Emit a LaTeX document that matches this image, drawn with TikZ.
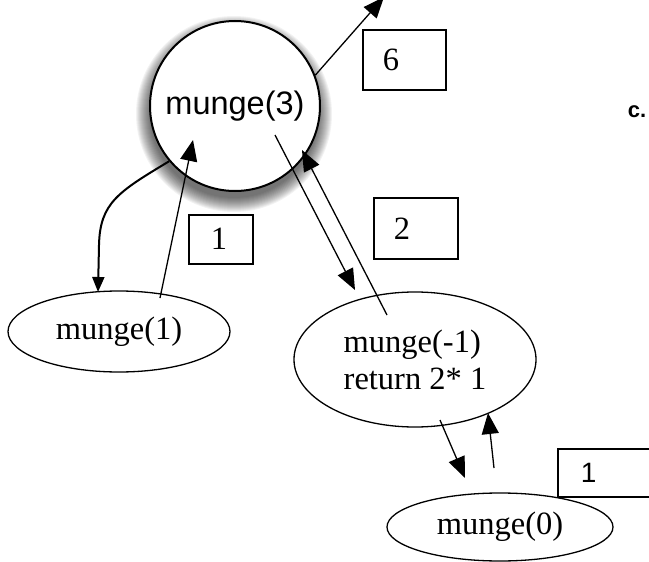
\documentclass[tikz,border=0pt]{standalone}
\usepackage{fontspec}
\setmainfont{Liberation Serif}
\newfontfamily\helv{Liberation Sans}
\usetikzlibrary{shapes.geometric,arrows.meta}
\begin{document}
\begin{tikzpicture}[x=1pt,y=-1pt,
  big/.style={font=\fontsize{32.5}{37}\selectfont},
  ell/.style={draw, ellipse, line width=1.3pt, inner sep=0pt, big},
  numbox/.style={draw, line width=1.5pt, anchor=north west, align=left, inner ysep=0pt, big},
  arr/.style={line width=1.3pt, -{Triangle[length=21pt,width=17pt]}},
  shadowring/.style={fill=black, fill opacity=0.05, draw=none},
]
\useasboundingbox (0,0) rectangle (649,562);
% soft shadow of the main circle
\foreach \r in {84,...,98} {\fill[shadowring] (234,114) circle[radius=\r];}
% main circle
\node[draw, circle, line width=2pt, minimum size=170pt, inner sep=0pt, fill=white,
      font=\helv\fontsize{32.5}{37}\selectfont] (m3) at (235,106) {munge(3)};
% ellipses
\node[ell, minimum width=222pt, minimum height=81pt] (m1) at (119,331.5) {munge(1)};
\node[ell, minimum width=242pt, minimum height=135pt, align=left] (mm1) at (415,359.5) {munge(-1)\\return 2* 1};
% boxes
\node[numbox, text width=43pt, inner xsep=20pt, minimum height=60pt] (b6) at (362,29) {6};
\node[numbox, text width=44pt, inner xsep=20pt, minimum height=61pt] (b2) at (373,197) {2};
\node[numbox, text width=20pt, inner xsep=22pt, minimum height=49pt] (b1) at (188,214) {1};
\node[numbox, text width=60pt, inner xsep=23pt, minimum height=48pt, font=\helv\fontsize{28}{32}\selectfont] (b1r) at (557,448) {1};
\node[ell, minimum width=226pt, minimum height=68pt, fill=white] (m0) at (500,527) {munge(0)};
% c.
\node[font=\helv\bfseries\fontsize{22}{24}\selectfont, inner sep=0pt] (c) at (637,112) {c.};
% free ends
\coordinate (top) at (384,-3);
\coordinate (m1top) at (98,292);
\coordinate (m1s) at (160,298);
\coordinate (m3t) at (193,140);
\coordinate (m3s) at (275,135);
\coordinate (mm1t) at (355,290);
\coordinate (mm1s) at (387,315);
\coordinate (m3u) at (302,150);
\coordinate (mm1b) at (440,420);
\coordinate (mm1bt) at (488,413);
\coordinate (m0t) at (465,478);
\coordinate (m0s) at (494,468);
% connectors
\draw[arr] (m3.21) -- (top);
\draw[line width=2pt, -{Triangle[length=15pt,width=12pt]}] (m3.220) .. controls (118,192) and (100,203) .. (99,245) -- (m1top);
\draw[arr] (m1s) -- (m3t);
\draw[arr] (m3s) -- (mm1t);
\draw[arr] (mm1s) -- (m3u);
\draw[arr] (mm1b) -- (m0t);
\draw[arr] (m0s) -- (mm1bt);
\end{tikzpicture}
\end{document}
